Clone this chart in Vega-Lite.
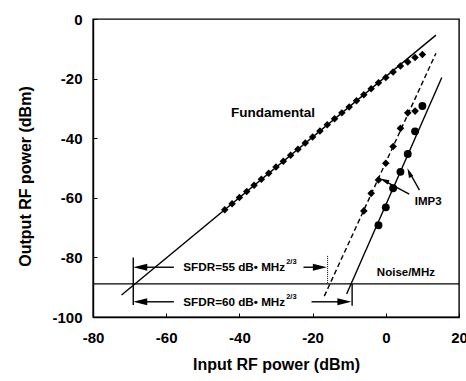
{
  "$schema": "https://vega.github.io/schema/vega-lite/v6.json",
  "width": 366,
  "height": 298,
  "autosize": {"type": "none"},
  "padding": {"left": 93, "top": 19, "right": 7, "bottom": 64},
  "background": "white",
  "datasets": {
    "fundLine": [{"x": -72.2, "y": -92.6}, {"x": 13.7, "y": -5.4}],
    "fund": [
      {"x": -44, "y": -64.0}, {"x": -42, "y": -62.0}, {"x": -40, "y": -59.9}, {"x": -38, "y": -57.9},
      {"x": -36, "y": -55.8}, {"x": -34, "y": -53.8}, {"x": -32, "y": -51.8}, {"x": -30, "y": -49.7},
      {"x": -28, "y": -47.7}, {"x": -26, "y": -45.7}, {"x": -24, "y": -43.7}, {"x": -22, "y": -41.6},
      {"x": -20, "y": -39.6}, {"x": -18, "y": -37.6}, {"x": -16, "y": -35.5}, {"x": -14, "y": -33.5},
      {"x": -12, "y": -31.5}, {"x": -10, "y": -29.5}, {"x": -8, "y": -27.4}, {"x": -6, "y": -25.4},
      {"x": -4, "y": -23.4}, {"x": -2, "y": -21.4}, {"x": 0, "y": -19.6}, {"x": 2, "y": -17.8},
      {"x": 4, "y": -15.8}, {"x": 6, "y": -14.4}, {"x": 8, "y": -12.9}, {"x": 10, "y": -11.9}
    ],
    "imdLineA": [{"x": -16.8, "y": -93.0}, {"x": 13.7, "y": -11.5}],
    "imdA": [
      {"x": -6, "y": -64.4}, {"x": -4, "y": -58.5}, {"x": -2, "y": -54.0}, {"x": 0, "y": -48.4},
      {"x": 2, "y": -42.8}, {"x": 4, "y": -36.7}, {"x": 6, "y": -31.5}, {"x": 8, "y": -30.9}
    ],
    "imdLineB": [{"x": -10.7, "y": -92.3}, {"x": 15.3, "y": -19.6}],
    "imdB": [
      {"x": -2, "y": -69.2}, {"x": 0, "y": -63.2}, {"x": 2, "y": -56.8}, {"x": 4, "y": -51.3},
      {"x": 6, "y": -45.3}, {"x": 8, "y": -37.7}, {"x": 10, "y": -29.2}
    ],
    "noise": [{"y": -88.9}],
    "vSolid": [{"x": -69.0, "y": -80.0, "y2": -96.0}, {"x": -9.2, "y": -88.9, "y2": -96.2}],
    "vDotted": [{"x": -15.9, "y": -79.5, "y2": -88.9}],
    "shafts": [
      {"x": -57.9, "x2": -66, "y": -83.3, "y2": -83.3},
      {"x": -22.5, "x2": -18, "y": -83.3, "y2": -83.3},
      {"x": -57.9, "x2": -66, "y": -94.9, "y2": -94.9},
      {"x": -20.3, "x2": -12, "y": -94.9, "y2": -94.9},
      {"x": 6.4, "x2": -0.5, "y": -58.8, "y2": -54.2},
      {"x": 9.2, "x2": 6.5, "y": -57.4, "y2": -51.5}
    ],
    "headsLeft": [{"x": -69.0, "y": -83.3}, {"x": -69.0, "y": -94.9}],
    "headsRight": [{"x": -16.1, "y": -83.3}, {"x": -9.4, "y": -94.9}],
    "headA": [{"x": -1.6, "y": -53.5}],
    "headB": [{"x": 5.9, "y": -50.1}],
    "labelBig": [{"x": -30.8, "y": -31.4, "text": "Fundamental"}],
    "labelSmall": [
      {"x": 5.5, "y": -85.3, "text": "Noise/MHz"},
      {"x": 11.6, "y": -61.3, "text": "IMP3"}
    ],
    "sfdr": [
      {"x": -27.5, "y": -83.2, "text": "SFDR=55 dB• MHz", "sup": "2/3"},
      {"x": -27.5, "y": -95.1, "text": "SFDR=60 dB• MHz", "sup": "2/3"}
    ]
  },
  "layer": [
    {
      "data": {"name": "fundLine"},
      "mark": {"type": "line", "color": "black", "strokeWidth": 1.4},
      "encoding": {
        "x": {"field": "x", "type": "quantitative", "scale": {"domain": [-80, 20], "nice": false, "zero": false},
              "axis": {"values": [-80, -60, -40, -20, 0, 20], "title": "Input RF power (dBm)", "titleY": 47, "titleBaseline": "middle", "labelPadding": 17}},
        "y": {"field": "y", "type": "quantitative", "scale": {"domain": [-100, 0], "nice": false, "zero": false},
              "axis": {"values": [-100, -80, -60, -40, -20, 0], "title": "Output RF power (dBm)", "titleX": -68, "titleY": 157, "titleBaseline": "middle", "labelPadding": 15}}
      }
    },
    {
      "data": {"name": "fund"},
      "mark": {"type": "point", "shape": "diamond", "filled": true, "color": "black", "size": 56, "opacity": 1},
      "encoding": {"x": {"field": "x", "type": "quantitative"}, "y": {"field": "y", "type": "quantitative"}}
    },
    {
      "data": {"name": "imdLineA"},
      "mark": {"type": "line", "color": "black", "strokeWidth": 1.4, "strokeDash": [5, 3]},
      "encoding": {"x": {"field": "x", "type": "quantitative"}, "y": {"field": "y", "type": "quantitative"}}
    },
    {
      "data": {"name": "imdA"},
      "mark": {"type": "point", "shape": "diamond", "filled": true, "color": "black", "size": 58, "opacity": 1},
      "encoding": {"x": {"field": "x", "type": "quantitative"}, "y": {"field": "y", "type": "quantitative"}}
    },
    {
      "data": {"name": "imdLineB"},
      "mark": {"type": "line", "color": "black", "strokeWidth": 1.4},
      "encoding": {"x": {"field": "x", "type": "quantitative"}, "y": {"field": "y", "type": "quantitative"}}
    },
    {
      "data": {"name": "imdB"},
      "mark": {"type": "point", "shape": "circle", "filled": true, "color": "black", "size": 62, "opacity": 1},
      "encoding": {"x": {"field": "x", "type": "quantitative"}, "y": {"field": "y", "type": "quantitative"}}
    },
    {
      "data": {"name": "noise"},
      "mark": {"type": "rule", "color": "black", "strokeWidth": 1.4},
      "encoding": {"y": {"field": "y", "type": "quantitative"}}
    },
    {
      "data": {"name": "vSolid"},
      "mark": {"type": "rule", "color": "black", "strokeWidth": 1.4},
      "encoding": {"x": {"field": "x", "type": "quantitative"}, "y": {"field": "y", "type": "quantitative"}, "y2": {"field": "y2"}}
    },
    {
      "data": {"name": "vDotted"},
      "mark": {"type": "rule", "color": "black", "strokeWidth": 1, "strokeDash": [1, 1]},
      "encoding": {"x": {"field": "x", "type": "quantitative"}, "y": {"field": "y", "type": "quantitative"}, "y2": {"field": "y2"}}
    },
    {
      "data": {"name": "shafts"},
      "mark": {"type": "rule", "color": "black", "strokeWidth": 1.4},
      "encoding": {"x": {"field": "x", "type": "quantitative"}, "x2": {"field": "x2"}, "y": {"field": "y", "type": "quantitative"}, "y2": {"field": "y2"}}
    },
    {
      "data": {"name": "headsLeft"},
      "mark": {"type": "point", "shape": "M0,0L2,-0.5L2,0.5Z", "filled": true, "color": "black", "size": 196, "opacity": 1, "strokeWidth": 0},
      "encoding": {"x": {"field": "x", "type": "quantitative"}, "y": {"field": "y", "type": "quantitative"}}
    },
    {
      "data": {"name": "headsRight"},
      "mark": {"type": "point", "shape": "M0,0L-2,-0.5L-2,0.5Z", "filled": true, "color": "black", "size": 196, "opacity": 1, "strokeWidth": 0},
      "encoding": {"x": {"field": "x", "type": "quantitative"}, "y": {"field": "y", "type": "quantitative"}}
    },
    {
      "data": {"name": "headA"},
      "mark": {"type": "point", "shape": "M0,0L2,-0.5L2,0.5Z", "angle": 24.5, "filled": true, "color": "black", "size": 90, "opacity": 1, "strokeWidth": 0},
      "encoding": {"x": {"field": "x", "type": "quantitative"}, "y": {"field": "y", "type": "quantitative"}}
    },
    {
      "data": {"name": "headB"},
      "mark": {"type": "point", "shape": "M0,0L2,-0.5L2,0.5Z", "angle": 66.5, "filled": true, "color": "black", "size": 90, "opacity": 1, "strokeWidth": 0},
      "encoding": {"x": {"field": "x", "type": "quantitative"}, "y": {"field": "y", "type": "quantitative"}}
    },
    {
      "data": {"name": "labelBig"},
      "mark": {"type": "text", "font": "Liberation Sans", "fontWeight": "bold", "fontSize": 13.5, "color": "black", "align": "center", "baseline": "middle"},
      "encoding": {"x": {"field": "x", "type": "quantitative"}, "y": {"field": "y", "type": "quantitative"}, "text": {"field": "text"}}
    },
    {
      "data": {"name": "labelSmall"},
      "mark": {"type": "text", "font": "Liberation Sans", "fontWeight": "bold", "fontSize": 11.5, "color": "black", "align": "center", "baseline": "middle"},
      "encoding": {"x": {"field": "x", "type": "quantitative"}, "y": {"field": "y", "type": "quantitative"}, "text": {"field": "text"}}
    },
    {
      "data": {"name": "sfdr"},
      "mark": {"type": "text", "font": "Liberation Sans", "fontWeight": "bold", "fontSize": 11.7, "color": "black", "align": "right", "baseline": "middle"},
      "encoding": {"x": {"field": "x", "type": "quantitative"}, "y": {"field": "y", "type": "quantitative"}, "text": {"field": "text"}}
    },
    {
      "data": {"name": "sfdr"},
      "mark": {"type": "text", "font": "Liberation Sans", "fontWeight": "bold", "fontSize": 7.5, "color": "black", "align": "left", "baseline": "middle", "dx": 1, "dy": -5},
      "encoding": {"x": {"field": "x", "type": "quantitative"}, "y": {"field": "y", "type": "quantitative"}, "text": {"field": "sup"}}
    }
  ],
  "config": {
    "view": {"stroke": "black", "strokeWidth": 1.4},
    "font": "Liberation Sans",
    "axis": {
      "grid": false,
      "domainColor": "black",
      "domainWidth": 1.4,
      "tickColor": "black",
      "tickWidth": 1,
      "tickSize": -4,
      "labelExpr": "datum.value + ''",
      "labelFont": "Liberation Sans",
      "labelFontWeight": "bold",
      "labelFontSize": 15,
      "labelColor": "black",
      "labelFlush": false,
      "labelOverlap": false,
      "titleFont": "Liberation Sans",
      "titleFontWeight": "bold",
      "titleFontSize": 16,
      "titleColor": "black"
    }
  }
}
